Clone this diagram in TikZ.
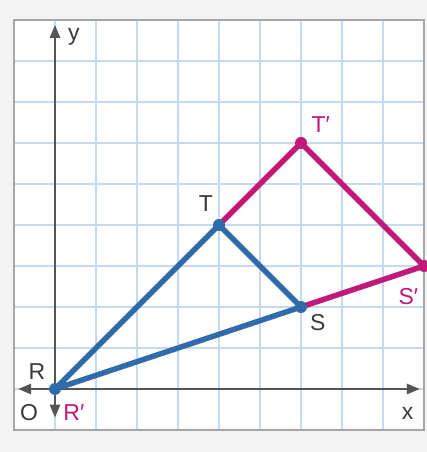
\documentclass[tikz,border=0pt]{standalone}
\usepackage{fontspec}
\setmainfont{Liberation Sans}
\usetikzlibrary{arrows.meta}
\definecolor{gridblue}{HTML}{C5DAEE}
\definecolor{bluel}{HTML}{2F6BAA}
\definecolor{mag}{HTML}{C2187A}
\definecolor{axisgray}{HTML}{555555}
\definecolor{txt}{HTML}{3A3A3A}
\definecolor{bg}{HTML}{F3F3F3}
\begin{document}
\begin{tikzpicture}[x=1pt,y=1pt,
  lbl/.style={font=\fontsize{23}{25}\selectfont, text=txt, inner sep=0pt},
  mlbl/.style={font=\fontsize{23}{25}\selectfont, text=mag, inner sep=0pt},
  dotb/.style={circle, fill=bluel, inner sep=0pt, minimum size=12pt},
  dotm/.style={circle, fill=mag, inner sep=0pt, minimum size=12pt},
  segb/.style={draw=bluel, line width=5.5pt},
  segm/.style={draw=mag, line width=5.5pt},
  axis/.style={draw=axisgray, line width=2.6pt, -{Triangle[length=13pt,width=10pt]}}]
\fill[bg] (0,0) rectangle (427,452);
\useasboundingbox (0,0) rectangle (427,452);
\begin{scope}[shift={(55,63)}, x=41pt, y=41pt]
  \fill[white] (-1,-1) rectangle (9,9);
  \draw[gridblue, line width=1.8pt, step=1] (-1,-1) grid (9,9);
  \draw[gray!70, line width=2.4pt] (-1,-1) rectangle (9,9);
  % axes
  \coordinate (xl) at (-0.9,0);
  \coordinate (xr) at (8.9,0);
  \coordinate (yb) at (0,-0.7);
  \coordinate (yt) at (0,8.88);
  \coordinate (o) at (0,0);
  \draw[axis] (o) -- (xr);
  \draw[axis] (o) -- (xl);
  \draw[axis] (o) -- (yt);
  \draw[axis] (o) -- (yb);
  % points
  \coordinate (R) at (0,0);
  \coordinate (T) at (4,4);
  \coordinate (S) at (6,2);
  \coordinate (Tp) at (6,6);
  \coordinate (Sp) at (9,3);
  \draw[segm, line join=round] (T) -- (Tp) -- (Sp) -- (S);
  \draw[segb, line join=round] (R) -- (T) -- (S) -- cycle;
  \node[dotb] (nR) at (R) {};
  \node[dotb] (nT) at (T) {};
  \node[dotb] (nS) at (S) {};
  \node[dotm] (nTp) at (Tp) {};
  \node[dotm] (nSp) at (Sp) {};
  % labels
  \node[lbl] (ly) at (0.46,8.58) {y};
  \node[lbl] (lx) at (8.6,-0.6) {x};
  \node[lbl] (lO) at (-0.63,-0.57) {O};
  \node[lbl] (lR) at (-0.44,0.43) {R};
  \node[mlbl] (lRp) at (0.46,-0.57) {R′};
  \node[lbl] (lT) at (3.68,4.52) {T};
  \node[mlbl] (lTp) at (6.48,6.45) {T′};
  \node[lbl] (lS) at (6.41,1.63) {S};
  \begin{scope}
    \clip (-1,-1) rectangle (9,9);
    \node[mlbl] (lSp) at (8.62,2.25) {S′};
  \end{scope}
\end{scope}
\end{tikzpicture}
\end{document}
